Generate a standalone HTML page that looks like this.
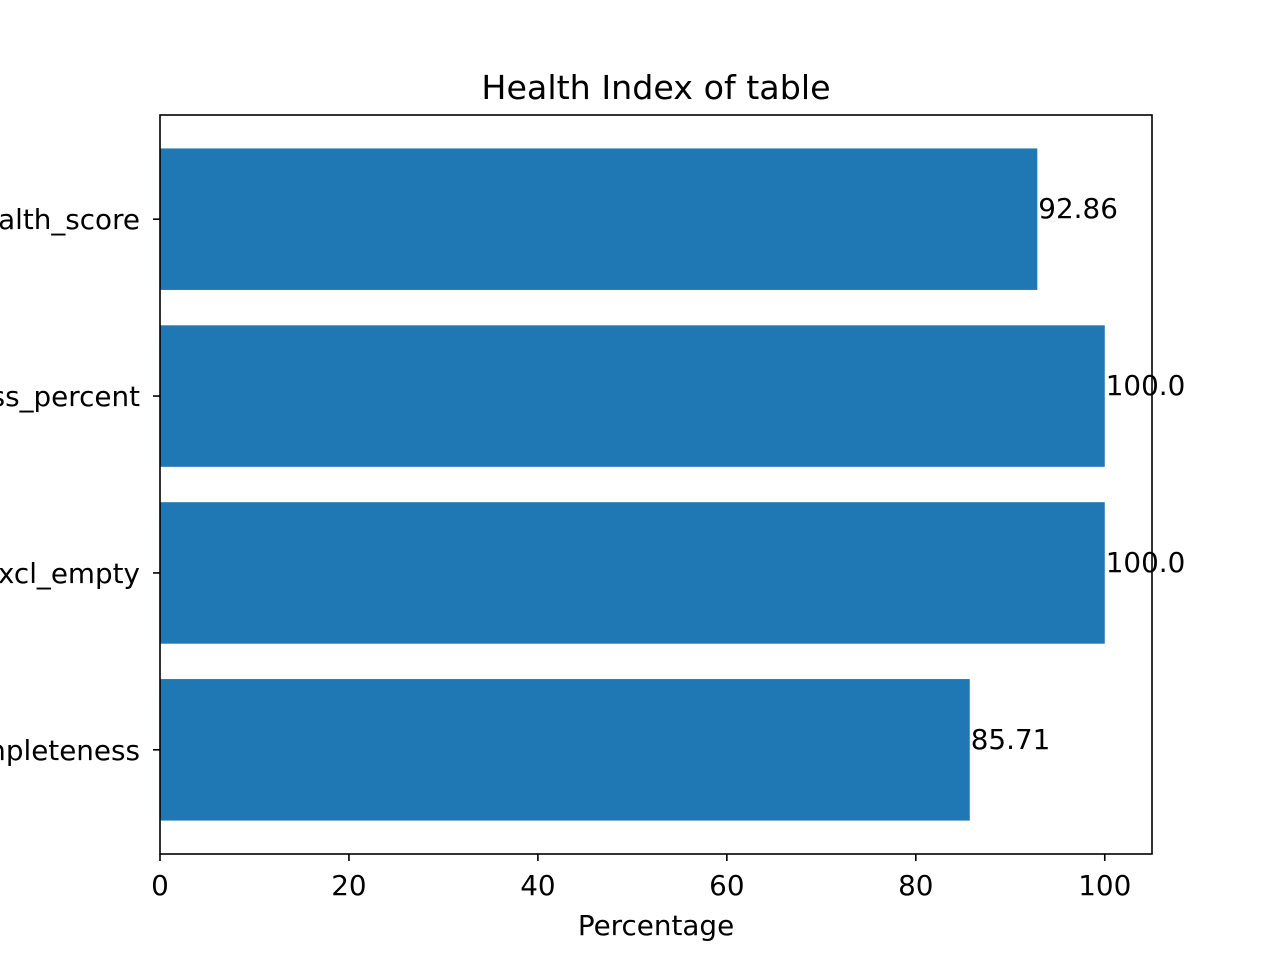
<!DOCTYPE html>
<html><head><meta charset="utf-8"><style>
html,body{margin:0;padding:0;background:#fff;width:1280px;height:960px;overflow:hidden}
text{font-family:"DejaVu Sans","Liberation Sans",sans-serif;fill:#000}
</style></head><body>
<svg id="chart" width="1280" height="960" viewBox="0 0 1280 960" xmlns="http://www.w3.org/2000/svg">
<rect width="1280" height="960" fill="#fff"/>
<g id="bars"></g>
<g id="ticks"></g>
<rect x="160" y="115" width="992" height="739" fill="none" stroke="#000" stroke-width="1.6"/>
<text x="656" y="99" font-size="33.3" text-anchor="middle">Health Index of table</text>
<text x="656" y="935" font-size="27.8" text-anchor="middle">Percentage</text>
</svg>
<script>
const categories=["completeness","completeness_excl_empty","uniqueness_percent","health_score"];
const values=[85.71,100.0,100.0,92.86];
const valueLabels=["85.71","100.0","100.0","92.86"];
const xTicks=[0,20,40,60,80,100];
const NS="http://www.w3.org/2000/svg";
const x0=160,x1=1152,xmin=0,xmax=105;
const yTop=115,yBot=854,ymin=-0.589,ymax=3.589;
const xs=v=>x0+(v-xmin)/(xmax-xmin)*(x1-x0);
const ys=v=>yBot-(v-ymin)/(ymax-ymin)*(yBot-yTop);
const bars=document.getElementById('bars'),ticks=document.getElementById('ticks');
function mk(t,a,p){const e=document.createElementNS(NS,t);for(const k in a)e.setAttribute(k,a[k]);p.appendChild(e);return e;}
const bh=(ys(0)-ys(0.8));
categories.forEach((c,i)=>{
 const r=mk('rect',{x:xs(0),y:ys(i)-bh/2,width:xs(values[i])-xs(0),height:bh,fill:'#1f77b4'},bars);
 
 
 const t=mk('text',{x:xs(values[i])+1,y:ys(i)-1,'font-size':27.8},bars);
 t.textContent=valueLabels[i];
 
 
 const tk=mk('line',{x1:x0-7,x2:x0,y1:ys(i),y2:ys(i),stroke:'#000','stroke-width':1.6},ticks);
 
 
 const l=mk('text',{x:x0-20,y:ys(i)+10,'font-size':27.8,'text-anchor':'end'},ticks);
 l.textContent=c;
 
 
});
xTicks.forEach(v=>{
 const tk=mk('line',{x1:xs(v),x2:xs(v),y1:yBot,y2:yBot+7,stroke:'#000','stroke-width':1.6},ticks);
 
 
 const l=mk('text',{x:xs(v),y:yBot+41,'font-size':27.8,'text-anchor':'middle'},ticks);
 l.textContent=v;
 
 
});
</script>
</body></html>
